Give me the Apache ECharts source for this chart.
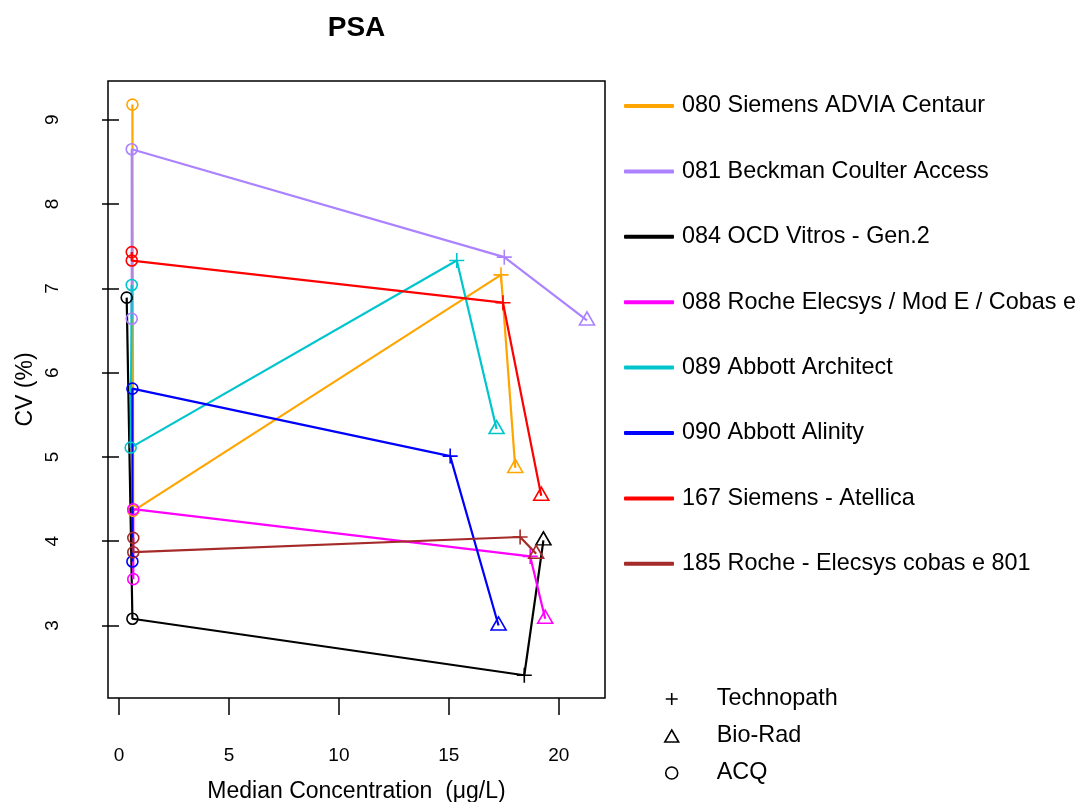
<!DOCTYPE html>
<html>
<head>
<meta charset="utf-8">
<script src="https://cdn.jsdelivr.net/npm/echarts@6/dist/echarts.min.js"></script>
<style>html,body{margin:0;padding:0;background:#fff}#c{width:1078px;height:802px}</style>
</head>
<body>
<div id="c"></div>
<script>
// ---- data ----
const chartTitle = 'PSA';
const seriesNames = [
  '080 Siemens ADVIA Centaur',
  '081 Beckman Coulter Access',
  '084 OCD Vitros - Gen.2',
  '088 Roche Elecsys / Mod E / Cobas e',
  '089 Abbott Architect',
  '090 Abbott Alinity',
  '167 Siemens - Atellica',
  '185 Roche - Elecsys cobas e 801'
];
const seriesColors = ['#FFA500', '#AB82FF', '#000000', '#FF00FF', '#00C5CD', '#0000FF', '#FF0000', '#A52A2A'];
const materialNames = ['Technopath', 'Bio-Rad', 'ACQ'];
// material of each point, in drawing order
const pointMaterial = ['ACQ', 'ACQ', 'Technopath', 'Bio-Rad'];

const conc080 = [0.61, 0.65, 17.37, 18.02];  const cv080 = [9.18, 4.36, 7.16, 4.87];
const conc081 = [0.58, 0.58, 17.52, 21.28];  const cv081 = [6.64, 8.65, 7.37, 6.62];
const conc084 = [0.35, 0.61, 18.43, 19.30];  const cv084 = [6.89, 3.08, 2.41, 4.01];
const conc088 = [0.65, 0.65, 18.70, 19.38];  const cv088 = [3.55, 4.38, 3.82, 3.08];
const conc089 = [0.58, 0.53, 15.36, 17.17];  const cv089 = [7.04, 5.11, 7.33, 5.33];
const conc090 = [0.61, 0.61, 15.06, 17.26];  const cv090 = [3.76, 5.81, 5.01, 3.00];
const conc167 = [0.58, 0.58, 17.46, 19.20];  const cv167 = [7.43, 7.33, 6.83, 4.54];
const conc185 = [0.65, 0.65, 18.24, 18.97];  const cv185 = [4.04, 3.87, 4.05, 3.85];

const concList = [conc080, conc081, conc084, conc088, conc089, conc090, conc167, conc185];
const cvList = [cv080, cv081, cv084, cv088, cv089, cv090, cv167, cv185];

const xTicks = [0, 5, 10, 15, 20];
const yTicks = [3, 4, 5, 6, 7, 8, 9];
const xName = 'Median Concentration  (\u03bcg/L)';
const yName = 'CV (%)';

// ---- styles ----
const FONT = '"Liberation Sans", Arial, Helvetica, sans-serif';
const PLUS = 'path://M0,-1L0,1M-1,0L1,0';
const TRI = 'path://M0,-1.555L1.347,0.778L-1.347,0.778Z';
const symbolFor = {
  'Technopath': {symbol: PLUS, symbolSize: 15, symbolOffset: [0, 0]},
  'Bio-Rad': {symbol: TRI, symbolSize: [15, 13], symbolOffset: [0, -2]},
  'ACQ': {symbol: 'circle', symbolSize: 11, symbolOffset: [0, 0]}
};

const series = seriesNames.map((name, i) => ({
  name: name,
  type: 'line',
  silent: true,
  animation: false,
  itemStyle: {color: seriesColors[i]},
  lineStyle: {color: seriesColors[i], width: 2.2},
  emphasis: {disabled: true},
  data: concList[i].map((x, j) => {
    const s = symbolFor[pointMaterial[j]];
    return {
      value: [x, cvList[i][j]],
      symbol: s.symbol,
      symbolSize: s.symbolSize,
      symbolOffset: s.symbolOffset,
      itemStyle: {color: 'rgba(0,0,0,0)', borderColor: seriesColors[i], borderWidth: 1.6}
    };
  })
}));
materialNames.forEach(m => series.push({name: m, type: 'line', data: [], silent: true}));

const chart = echarts.init(document.getElementById('c'), null, {renderer: 'canvas'});
chart.setOption({
  backgroundColor: '#fff',
  animation: false,
  textStyle: {fontFamily: FONT, color: '#000'},
  title: {
    text: chartTitle, left: 356.5, top: 14, textAlign: 'center', padding: 0,
    textStyle: {fontFamily: FONT, fontWeight: 'bold', fontSize: 28, color: '#000'}
  },
  grid: {
    left: 108, top: 81, width: 497, height: 617,
    containLabel: false, outerBoundsMode: 'none',
    show: true, borderColor: '#000', borderWidth: 1.5, backgroundColor: 'transparent'
  },
  xAxis: {
    type: 'value', min: -0.5, max: 22.1,
    axisLine: {show: false},
    splitLine: {show: false},
    axisTick: {show: true, customValues: xTicks, length: 17, lineStyle: {color: '#000', width: 1.5}},
    axisLabel: {customValues: xTicks, fontSize: 19, color: '#000', margin: 48, fontFamily: FONT},
    name: xName, nameLocation: 'middle', nameGap: 82,
    nameTextStyle: {fontSize: 23, color: '#000', fontFamily: FONT}
  },
  yAxis: {
    type: 'value', min: 2.14, max: 9.46,
    axisLine: {show: false},
    splitLine: {show: false},
    axisTick: {show: true, customValues: yTicks, length: 17, lineStyle: {color: '#000', width: 1.5}},
    axisLabel: {customValues: yTicks, fontSize: 19, color: '#000', margin: 46, rotate: 90, fontFamily: FONT},
    name: yName, nameLocation: 'middle', nameGap: 71,
    nameTextStyle: {fontSize: 23, color: '#000', fontFamily: FONT}
  },
  legend: [
    {
      orient: 'vertical', left: 624, top: 93, padding: 0,
      itemWidth: 50, itemHeight: 4, itemGap: 39.4,
      selectedMode: false,
      icon: 'roundRect',
      textStyle: {fontSize: 23.4, lineHeight: 26, color: '#000', fontFamily: FONT, padding: [0, 0, 0, 3]},
      data: seriesNames.map((n, i) => ({name: n, itemStyle: {color: seriesColors[i], borderWidth: 0}}))
    },
    {
      orient: 'vertical', left: 664, top: 686, padding: 0,
      itemWidth: 16, itemHeight: 12, itemGap: 11,
      selectedMode: false,
      textStyle: {fontSize: 23.4, lineHeight: 26, color: '#000', fontFamily: FONT, padding: [0, 0, 0, 32]},
      data: [
        {name: 'Technopath', icon: PLUS, itemStyle: {color: 'rgba(0,0,0,0)', borderColor: '#000', borderWidth: 1.6}},
        {name: 'Bio-Rad', icon: TRI, itemStyle: {color: 'rgba(0,0,0,0)', borderColor: '#000', borderWidth: 1.6}},
        {name: 'ACQ', icon: 'circle', itemStyle: {color: 'rgba(0,0,0,0)', borderColor: '#000', borderWidth: 1.6}}
      ]
    }
  ],
  series: series
});
</script>
</body>
</html>
